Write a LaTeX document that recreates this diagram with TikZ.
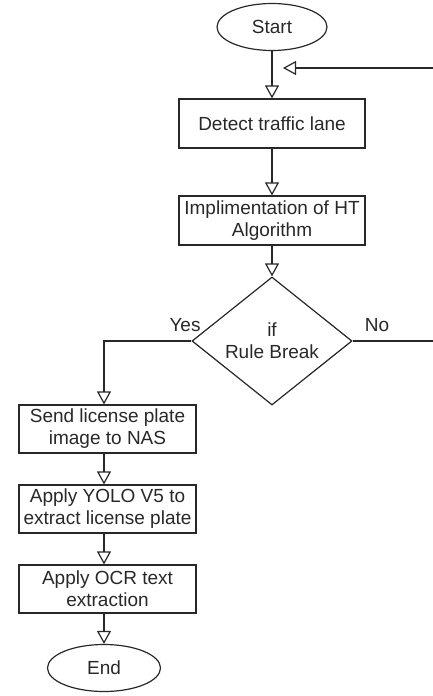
\documentclass[tikz,border=0pt]{standalone}
\usepackage{fontspec}
\setmainfont{Liberation Sans}
\usetikzlibrary{shapes.geometric,arrows.meta}
\definecolor{ink}{RGB}{40,40,40}
\begin{document}
\begin{tikzpicture}[x=1pt,y=-1pt,
  every node/.style={font=\fontsize{19}{22}\selectfont, text=ink},
  terminal/.style={draw=ink, line width=1.2pt, ellipse, minimum width=110pt, minimum height=47pt, inner sep=0pt},
  process/.style={draw=ink, line width=1.2pt, rectangle, align=center, inner sep=0pt},
  decision/.style={draw=ink, line width=1.2pt, diamond, align=center, inner sep=0pt, aspect=1.25,
    minimum width=160pt, minimum height=128pt},
  flow/.style={draw=ink, line width=1.2pt, -{Triangle[open, length=13pt, width=14pt]}},
  plain/.style={draw=ink, line width=1.2pt}]
  \useasboundingbox (0,0) rectangle (433,696);
  \clip (0,0) rectangle (433,696);

  % main column
  \node[terminal] (start) at (272,27) {Start};
  \node[process, minimum width=186pt, minimum height=49pt] (detect) at (272,123.5) {Detect traffic lane};
  \node[process, minimum width=186pt, minimum height=49pt] (impl) at (272,220.5) {Implimentation of HT\\Algorithm};
  \node[decision] (rule) at (272,341) {if\\Rule Break};

  % "Yes" branch
  \node[process, minimum width=177pt, minimum height=48pt] (send) at (107.5,429) {Send license plate\\image to NAS};
  \node[process, minimum width=177pt, minimum height=48pt] (yolo) at (107.5,509) {Apply YOLO V5 to\\extract license plate};
  \node[process, minimum width=177pt, minimum height=48pt] (ocr) at (107.5,589) {Apply OCR text\\extraction};
  \node[terminal, minimum width=113pt] (endn) at (104,668) {End};

  \node (yes) at (185,325) {Yes};
  \node (no) at (377,325) {No};
  \coordinate (loopin) at (283,68);
  \coordinate (loopout) at (460,68);

  % connectors
  \draw[flow] (start) -- (detect);
  \draw[flow] (detect) -- (impl);
  \draw[flow] (impl) -- (rule);
  \draw[flow] (rule.west) -| (send.north -| endn.north);
  \draw[flow] (send.south -| endn.north) -- (yolo.north -| endn.north);
  \draw[flow] (yolo.south -| endn.north) -- (ocr.north -| endn.north);
  \draw[flow] (ocr.south -| endn.north) -- (endn.north);
  \draw[plain] (rule.east) -- (rule.east -| loopout) -- (loopout);
  \draw[flow] (loopout) -- (loopin);
\end{tikzpicture}
\end{document}
